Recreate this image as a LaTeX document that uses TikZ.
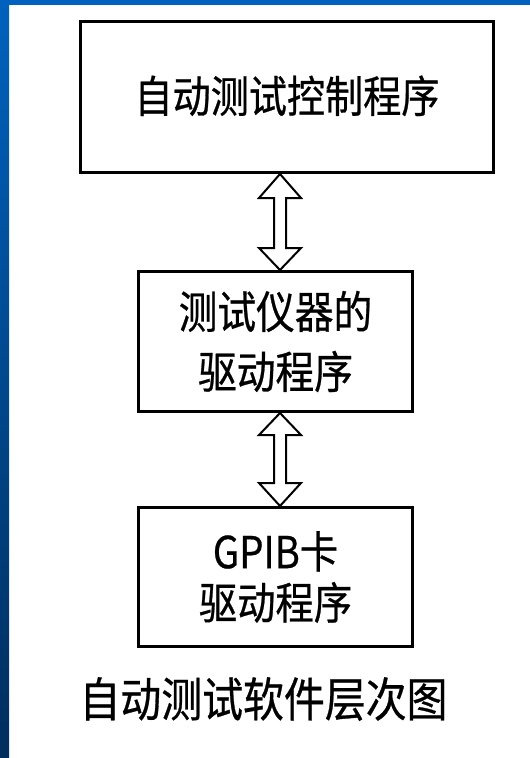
\documentclass[tikz,border=0pt]{standalone}
\usepackage{fontspec}
\newfontfamily\cjk[FakeStretch=0.87,FakeBold=0.6]{Noto Sans CJK SC}
\usetikzlibrary{calc}
\definecolor{bluetop}{RGB}{0,98,190}
\definecolor{bluebot}{RGB}{0,46,94}
\tikzset{
  box/.style={draw=black, line width=3pt, fill=white, inner sep=0pt, align=center,
              font=\cjk\fontsize{44.5}{60}\selectfont},
  hollow/.style={draw=black, line width=2pt, fill=white, line join=miter},
  caption/.style={font=\cjk\fontsize{47}{52}\selectfont, inner sep=0pt}
}
\begin{document}
\begin{tikzpicture}[x=1pt,y=-1pt]
  % background
  \useasboundingbox (0,0) rectangle (530,758);
  \fill[white] (0,0) rectangle (530,758);
  \shade[top color=bluetop, bottom color=bluebot] (0,0) rectangle (9,758);
  \fill[bluetop] (0,0) rectangle (530,5);

  % boxes
  \node[box, minimum width=413pt, minimum height=151pt, font=\cjk\fontsize{43.8}{60}\selectfont] (b1) at (287,97)
    {\raisebox{6pt}{自动测试控制程序}};
  \node[box, minimum width=274pt, minimum height=140pt] (b2) at (275.5,341.5)
    {测试仪器的\\驱动程序};
  \node[box, minimum width=274pt, minimum height=139pt, font=\cjk\fontsize{44}{51}\selectfont] (b3) at (275.5,577)
    {GPIB卡\\驱动程序};

  % caption
  \node[caption] (cap) at (263.5,699) {自动测试软件层次图};

  % hollow double arrows
  \coordinate (ax) at (280,0);
  \draw[hollow] let \p1=(b1.south -| ax), \p2=(b2.north -| ax) in
    (\x1,\y1) -- (\x1-21pt,\y1-24pt) -- (\x1-6pt,\y1-24pt) -- (\x1-6pt,\y2+22pt)
    -- (\x1-21pt,\y2+22pt) -- (\x1,\y2) -- (\x1+21pt,\y2+22pt) -- (\x1+6pt,\y2+22pt)
    -- (\x1+6pt,\y1-24pt) -- (\x1+21pt,\y1-24pt) -- cycle;
  \draw[hollow] let \p1=(b2.south -| ax), \p2=(b3.north -| ax) in
    (\x1,\y1) -- (\x1-21pt,\y1-22pt) -- (\x1-6pt,\y1-22pt) -- (\x1-6pt,\y2+23pt)
    -- (\x1-21pt,\y2+23pt) -- (\x1,\y2) -- (\x1+21pt,\y2+23pt) -- (\x1+6pt,\y2+23pt)
    -- (\x1+6pt,\y1-22pt) -- (\x1+21pt,\y1-22pt) -- cycle;
\end{tikzpicture}
\end{document}
